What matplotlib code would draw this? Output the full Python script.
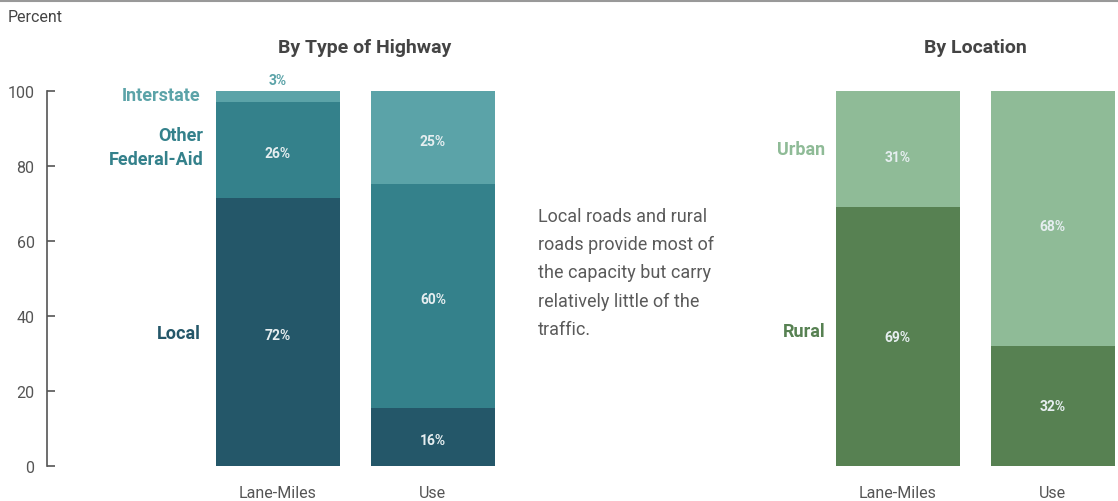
import matplotlib
matplotlib.use("Agg")
import matplotlib.pyplot as plt
import matplotlib.transforms as mtransforms
from matplotlib.lines import Line2D

plt.rcParams['font.family'] = ['Roboto', 'DejaVu Sans']

# Share of lane-miles and of travel, by highway type (percent)
hw_bars = ["Lane-Miles", "Use"]
hw_local = [71.6, 15.6]
hw_other = [25.6, 59.6]
hw_interstate = [2.8, 24.8]

# Share of lane-miles and of travel, by location (percent)
loc_bars = ["Lane-Miles", "Use"]
loc_rural = [69, 32]
loc_urban = [31, 68]

y_ticks = [0, 20, 40, 60, 80, 100]

note = ("Local roads and rural\nroads provide most of\nthe capacity but carry\n"
        "relatively little of the\ntraffic.")

C_INTER = "#5ba3a8"
C_OTHER = "#34818b"
C_LOCAL = "#245769"
C_URBAN = "#8fbb97"
C_RURAL = "#578152"
GRAY = "#555555"
IN_TXT = "#e6eef0"

W, H = 1118, 502
fig = plt.figure(figsize=(W / 100, H / 100), dpi=100)

# axes spans from the y-axis line to the right edge, 0..100 on the vertical
ax_l, ax_r, ax_t, ax_b = 47, 1118, 92, 467
ax = fig.add_axes([ax_l / W, 1 - ax_b / H, (ax_r - ax_l) / W, (ax_b - ax_t) / H])
ax.set_ylim(0, 100)
ax.set_xlim(-1.49, 5.42)

hw_x = [0, 1]
loc_x = [4, 5]
bw = 0.8

ax.bar(hw_x, hw_local, bw, color=C_LOCAL)
ax.bar(hw_x, hw_other, bw, bottom=hw_local, color=C_OTHER)
tops = [a + b for a, b in zip(hw_local, hw_other)]
ax.bar(hw_x, hw_interstate, bw, bottom=tops, color=C_INTER)

ax.bar(loc_x, loc_rural, bw, color=C_RURAL)
ax.bar(loc_x, loc_urban, bw, bottom=loc_rural, color=C_URBAN)

lab_kw = dict(ha="center", va="center", fontsize=10, fontweight="bold", color=IN_TXT)
for i, x in enumerate(hw_x):
    ax.text(x, hw_local[i] / 2 - 1, f"{hw_local[i]:.0f}%", **lab_kw)
    ax.text(x, hw_local[i] + hw_other[i] / 2 - 1, f"{hw_other[i]:.0f}%", **lab_kw)
# interstate share is too thin on lane-miles: label sits above the bar
ax.text(hw_x[0], tops[0] + hw_interstate[0] + 3.0, f"{hw_interstate[0]:.0f}%",
        ha="center", va="center", fontsize=10, fontweight="bold", color=C_INTER, clip_on=False)
ax.text(hw_x[1], tops[1] + hw_interstate[1] / 2 - 1, f"{hw_interstate[1]:.0f}%", **lab_kw)

for i, x in enumerate(loc_x):
    ax.text(x, loc_rural[i] / 2, f"{loc_rural[i]:.0f}%", **lab_kw)
    ax.text(x, loc_rural[i] + loc_urban[i] / 2 - 2, f"{loc_urban[i]:.0f}%", **lab_kw)

# series names to the left of each group
sk = dict(ha="right", va="center", fontsize=13, fontweight="bold")
ax.text(-0.50, 98.8, "Interstate", color=C_INTER, **sk)
ax.text(-0.48, 85.0, "Other\nFederal-Aid", color=C_OTHER, linespacing=1.45, **sk)
ax.text(-0.50, 35.5, "Local", color=C_LOCAL, **sk)
ax.text(3.53, 84.5, "Urban", color=C_URBAN, **sk)
ax.text(3.53, 36.0, "Rural", color=C_RURAL, **sk)

# category labels under the bars
trans = mtransforms.blended_transform_factory(ax.transData, ax.transAxes)
for x, name in zip(hw_x + loc_x, hw_bars + loc_bars):
    ax.text(x, -0.07, name, transform=trans, ha="center", va="center",
            fontsize=11.5, color=GRAY, clip_on=False)

# panel titles
ax.text(0.56, 1.118, "By Type of Highway", transform=trans, ha="center", va="center",
        fontsize=14, fontweight="bold", color="#444444")
ax.text(4.5, 1.118, "By Location", transform=trans, ha="center", va="center",
        fontsize=14, fontweight="bold", color="#444444")

# explanatory note
fig.text(538 / W, 1 - 208 / H, note, ha="left", va="top", fontsize=13,
         color="#5a5a5a", linespacing=1.72)

# y axis
for s in ["top", "right", "bottom"]:
    ax.spines[s].set_visible(False)
ax.spines["left"].set_color(GRAY)
ax.spines["left"].set_linewidth(1.2)
ax.set_yticks(y_ticks)
ax.tick_params(axis="y", direction="in", length=6, width=1.2, color=GRAY,
               labelcolor=GRAY, labelsize=11.5, pad=9)
ax.set_xticks([])

fig.text(8 / W, 1 - 18 / H, "Percent", ha="left", va="center", fontsize=11.5, color="#444444")

# rule across the top
fig.add_artist(Line2D([0, 1], [1 - 1.5 / H, 1 - 1.5 / H], color="#999999", lw=1.5))

fig.savefig("out.png", dpi=100)
